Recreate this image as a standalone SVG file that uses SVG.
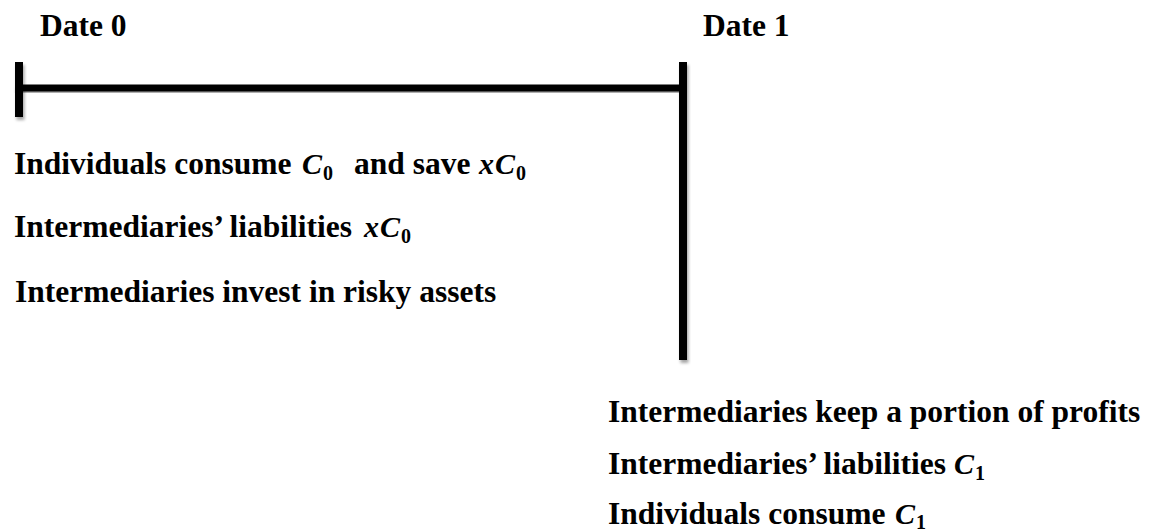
<svg xmlns="http://www.w3.org/2000/svg" width="1152" height="532" viewBox="0 0 1152 532">
  <style>
    text { font-family: "Liberation Serif", "Times New Roman", serif; font-weight: bold; font-size: 31.5px; fill: #000; }
    .m { font-style: italic; font-size: 30px; }
    .sub { font-size: 20px; font-style: normal; }
    .bar { fill: #000; filter: url(#sh); }
  </style>
  <defs>
    <filter id="sh" x="-50%" y="-10%" width="200%" height="130%">
      <feDropShadow dx="1.5" dy="3" stdDeviation="1.8" flood-color="#000" flood-opacity="0.35"/>
    </filter>
  </defs>
  <rect width="1152" height="532" fill="#fff"/>

  <g id="connectors">
    <rect class="bar" x="15" y="84.5" width="668" height="7"/>
    <rect class="bar" x="15" y="62" width="8" height="55"/>
    <rect class="bar" x="679" y="62" width="8" height="298"/>
  </g>

  <g id="date0">
    <text x="40" y="36">Date 0</text>
  </g>
  <g id="date1">
    <text x="703" y="36">Date 1</text>
  </g>

  <g id="date0-events">
    <text x="14" y="174">Individuals consume</text>
    <text class="m" x="302" y="174">C</text>
    <text class="sub" x="323" y="180">0</text>
    <text x="354" y="174">and save</text>
    <text class="m" x="479" y="174">x</text>
    <text class="m" x="495" y="174">C</text>
    <text class="sub" x="516" y="180">0</text>

    <text x="14" y="237">Intermediaries’ liabilities</text>
    <text class="m" x="364" y="237">x</text>
    <text class="m" x="380" y="237">C</text>
    <text class="sub" x="401" y="243">0</text>

    <text x="15" y="302">Intermediaries invest in risky assets</text>
  </g>

  <g id="date1-events">
    <text x="608" y="422">Intermediaries keep a portion of profits</text>

    <text x="608" y="474">Intermediaries’ liabilities</text>
    <text class="m" x="954" y="474">C</text>
    <text class="sub" x="975" y="480">1</text>

    <text x="608" y="524">Individuals consume</text>
    <text class="m" x="895" y="524">C</text>
    <text class="sub" x="916" y="529">1</text>
  </g>
</svg>
